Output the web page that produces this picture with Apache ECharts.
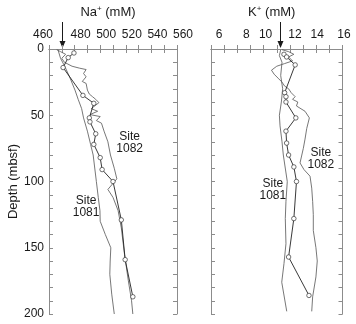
<!DOCTYPE html>
<html>
<head>
<meta charset="utf-8">
<script src="https://cdn.jsdelivr.net/npm/echarts@6/dist/echarts.min.js"></script>
<style>
  html, body { margin: 0; padding: 0; background: #fff; }
  #c { width: 356px; height: 324px; }
</style>
</head>
<body>
<div id="c"></div>
<script>
// Tick labels
const naTickLabels = [460, 480, 500, 520, 540, 560];
const kTickLabels = [6, 8, 10, 12, 14, 16];
const depthTickLabels = [0, 50, 100, 150, 200];

// Sampled pore-water profile (open circles)
const naPointDepth = [3, 6.5, 14, 35, 41, 52, 55, 64, 72, 82, 91, 100, 129, 159, 187];
const naPoint = [479.5, 475, 471, 486.5, 495, 491.5, 492, 496.5, 495, 500, 501.5, 510, 516.5, 519.5, 525.5];
const kPointDepth = [4, 6, 12, 33, 36, 40, 52, 62, 71, 80, 89, 100, 128, 157, 186];
const kPoint = [11.55, 11.75, 12.4, 11.6, 11.7, 11.7, 12.45, 11.7, 11.75, 11.9, 12.3, 12.5, 12.3, 11.9, 13.45];

// Site 1081 profiles
const naSite1081Depth = [0.5, 7, 13.5, 22, 31, 38, 45, 52, 62, 72, 80, 100, 112, 122, 130, 140, 150, 160, 170, 185, 200];
const naSite1081 = [467, 469, 472.5, 476.5, 480.3, 482.8, 485.5, 487, 490, 492.5, 494.5, 497, 498.5, 499.8, 500, 504, 508.3, 507.8, 507.5, 509, 511];
const kSite1081Depth = [0.5, 5, 10, 20, 30, 40, 50, 58, 70, 80, 100, 115, 128, 147, 162, 176, 198];
const kSite1081 = [11.3, 11.2, 11.4, 11.3, 11.45, 11.35, 11.2, 11.25, 11.4, 11.5, 11.8, 11.7, 11.65, 11.7, 11.55, 11.38, 11.76];

// Site 1082 profiles
const naSite1082Depth = [0.5, 2, 4, 7, 10, 13, 14.5, 15.5, 18.5, 21, 24.5, 26, 31, 34, 36, 38, 40.5, 42, 45, 47, 49.5, 51, 54, 56, 62, 70, 80, 90, 98, 106, 112, 122, 135, 155, 175, 190, 200];
const naSite1082 = [466, 469, 473, 470, 472, 478, 484, 489, 487, 489, 486, 489, 490, 491.5, 494, 496.5, 499, 500, 493, 498, 492, 500, 497, 501, 503, 506, 508, 511, 513, 506, 510, 514, 516.5, 519, 522, 524.5, 525.5];
const kSite1082Depth = [0.5, 2, 4, 6, 9, 11, 13, 16, 19, 22, 25, 28, 30, 33, 36, 38, 40, 43, 47, 52, 60, 68, 75, 86, 91, 96, 105, 115, 125, 137, 150, 160, 172, 187, 198];
const kSite1082 = [11.4, 11.9, 12.3, 11.9, 12.2, 11.6, 11.0, 10.6, 10.8, 11.1, 11.4, 11.6, 11.9, 12.1, 12.4, 12.2, 12.6, 12.5, 13.15, 13.48, 13.28, 13.15, 13.02, 12.77, 13.07, 13.53, 13.66, 13.73, 13.78, 13.78, 13.98, 14.08, 13.98, 13.73, 13.66];

// Seawater reference values marked by arrows
const naSeawater = 470;
const kSeawater = 11.25;

const FONT = '"Liberation Sans", Arial, Helvetica, sans-serif';
const INK = '#1a1a1a';
const FRAME = '#8c8c8c';

const pairs = (vals, depths) => vals.map((v, i) => [v, depths[i]]);

// horizontal nudges for the top tick labels (px, + = right)
const naLabelShift = { 460: -6, 480: 6, 500: 6, 520: 6, 540: 6, 560: 6 };
const kLabelShift = { 6: 8, 8: 9, 10: 2, 12: 5, 14: 1, 16: 1.5 };

function labelRich(shifts) {
  const rich = {};
  Object.keys(shifts).forEach((k, i) => {
    const dx = shifts[k];
    rich['s' + i] = {
      fontFamily: FONT, fontSize: 12, color: INK,
      padding: dx >= 0 ? [0, 0, 0, 2 * dx] : [0, -2 * dx, 0, 0]
    };
  });
  return rich;
}
function labelFormatter(shifts) {
  const keys = Object.keys(shifts).map(Number);
  return (v) => {
    const i = keys.findIndex(k => Math.abs(k - v) < 1e-6);
    return i < 0 ? '' : '{s' + i + '|' + keys[i] + '}';
  };
}

const lineAx = { show: true, lineStyle: { color: FRAME, width: 1 } };
const tickAx = { show: true, inside: true, length: 4, lineStyle: { color: FRAME, width: 1 } };

function topAxis(grid, min, max, interval, shifts, name, nameShift) {
  return {
    type: 'value', gridIndex: grid, position: 'top', min, max, interval,
    axisLine: lineAx, axisTick: tickAx, splitLine: { show: false },
    axisLabel: { margin: 8, formatter: labelFormatter(shifts), rich: labelRich(shifts) },
    name, nameLocation: 'middle', nameGap: 30,
    nameTextStyle: {
      fontFamily: FONT, fontSize: 13, color: INK,
      padding: [0, 2 * nameShift, 0, 0],
      rich: {
        sup: { fontFamily: FONT, fontSize: 8, color: INK, padding: [0, 0, 6, 0] }
      }
    }
  };
}
function bottomAxis(grid, min, max, interval) {
  return {
    type: 'value', gridIndex: grid, position: 'bottom', min, max, interval,
    axisLine: lineAx, axisTick: tickAx, splitLine: { show: false },
    axisLabel: { show: false }
  };
}
function depthAxis(grid, position, labelled) {
  return {
    type: 'value', gridIndex: grid, position, inverse: true, min: 0, max: 200, interval: 10,
    axisLine: lineAx, axisTick: tickAx, splitLine: { show: false },
    axisLabel: {
      show: labelled, margin: 5, fontFamily: FONT, fontSize: 12, color: INK,
      formatter: (v) => depthTickLabels.includes(v) ? String(v) : ''
    },
    name: labelled ? 'Depth (mbsf)' : '', nameLocation: 'middle', nameGap: 29,
    nameTextStyle: { fontFamily: FONT, fontSize: 13, color: INK }
  };
}

function profile(x, y, vals, depths, marked) {
  return {
    type: 'line', xAxisIndex: x, yAxisIndex: y,
    data: pairs(vals, depths),
    symbol: marked ? 'circle' : 'none', symbolSize: 4.5,
    showSymbol: !!marked,
    lineStyle: { color: marked ? '#222' : '#5f5f5f', width: marked ? 0.9 : 0.85 },
    itemStyle: { color: '#fff', borderColor: '#333', borderWidth: 0.7 },
    emphasis: { disabled: true }, animation: false, z: marked ? 3 : 2
  };
}

const chart = echarts.init(document.getElementById('c'), null, { renderer: 'canvas' });
chart.setOption({
  backgroundColor: '#fff',
  animation: false,
  grid: [
    { left: 49, top: 47, width: 128, height: 267 },
    { left: 211, top: 47, width: 131.5, height: 267 }
  ],
  xAxis: [
    topAxis(0, 460, 560, 10, naLabelShift, 'Na{sup|+} (mM)', 5),
    bottomAxis(0, 460, 560, 10),
    topAxis(1, 6, 16, 1, kLabelShift, 'K{sup|+} (mM)', 5),
    bottomAxis(1, 6, 16, 1)
  ],
  yAxis: [
    depthAxis(0, 'left', true),
    depthAxis(0, 'right', false),
    depthAxis(1, 'left', false),
    depthAxis(1, 'right', false)
  ],
  series: [
    profile(0, 0, naSite1081, naSite1081Depth, false),
    profile(0, 0, naSite1082, naSite1082Depth, false),
    profile(0, 0, naPoint, naPointDepth, true),
    profile(2, 2, kSite1081, kSite1081Depth, false),
    profile(2, 2, kSite1082, kSite1082Depth, false),
    profile(2, 2, kPoint, kPointDepth, true)
  ]
});

// Arrows above each panel and site annotations, placed through the series' coordinate systems
const px = (seriesIndex, v, d) => chart.convertToPixel({ seriesIndex }, [v, d]);
function arrow(seriesIndex, value) {
  const p = px(seriesIndex, value, 0);
  const x = Math.round(p[0]) + 0.5, yTip = p[1] - 1;
  return [
    { type: 'line', shape: { x1: x, y1: yTip - 26, x2: x, y2: yTip - 6 }, style: { stroke: INK, lineWidth: 1 } },
    { type: 'polygon', shape: { points: [[x - 3, yTip - 7], [x + 3, yTip - 7], [x, yTip]] }, style: { fill: INK } }
  ];
}
function siteLabel(seriesIndex, v, d, text) {
  const p = px(seriesIndex, v, d);
  return {
    type: 'text', x: p[0], y: p[1],
    style: { text, fontFamily: FONT, fontSize: 12, fill: INK, align: 'center', verticalAlign: 'middle', lineHeight: 12 }
  };
}
chart.setOption({
  graphic: [
    ...arrow(0, naSeawater),
    ...arrow(3, kSeawater),
    siteLabel(0, 523, 71, 'Site\n1082'),
    siteLabel(0, 489, 119, 'Site\n1081'),
    siteLabel(3, 14.35, 83, 'Site\n1082'),
    siteLabel(3, 10.7, 106.5, 'Site\n1081')
  ]
});
</script>
</body>
</html>
